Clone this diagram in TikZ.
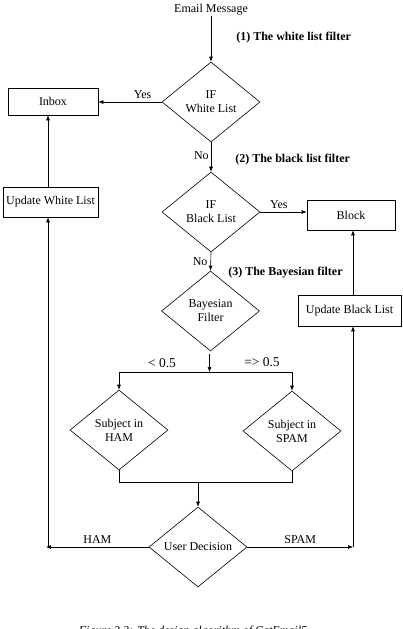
\documentclass[tikz,border=0pt]{standalone}
\usepackage{fontspec}
\setmainfont{Liberation Serif}
\usetikzlibrary{arrows.meta,shapes.geometric,calc}
\tikzset{
  dec/.style={draw, diamond, minimum width=98pt, minimum height=80pt, inner sep=0pt, align=center, font=\fontsize{12}{14}\selectfont},
  box/.style={draw, rectangle, inner sep=0pt, align=center, font=\fontsize{12}{14}\selectfont},
  lbl/.style={font=\fontsize{12}{14}\selectfont, inner sep=0pt},
  ttl/.style={font=\fontsize{12}{14}\selectfont\bfseries, inner sep=0pt, anchor=west},
  arr/.style={-{Latex[length=5pt,width=4pt]}}
}
\begin{document}
\begin{tikzpicture}[x=1pt,y=-1pt,line width=0.6pt]
\useasboundingbox (0,0) rectangle (402,629);
\clip (0,0) rectangle (402,629);
% nodes
\node[lbl] (email) at (211,10) {Email Message};
\node[dec] (white) at (211,102) {IF\\White List};
\node[box, minimum width=90pt, minimum height=27pt] (inbox) at (53,101.5) {Inbox};
\node[dec] (black) at (211,212) {IF\\Black List};
\node[box, minimum width=88pt, minimum height=30pt] (block) at (351,215) {Block};
\node[box, minimum width=95pt, minimum height=30pt] (upw) at (50.5,202) {Update White List};
\node[dec] (bayes) at (210.5,311) {Bayesian\\Filter};
\node[box, minimum width=103pt, minimum height=31pt] (upb) at (349.5,310.5) {Update Black List};
\node[dec] (ham) at (119,430) {Subject in\\HAM};
\node[dec] (spam) at (292,431) {Subject in\\SPAM};
\node[dec] (user) at (198,547) {User Decision};
% titles
\node[ttl] (t1) at (236,38) {(1) The white list filter};
\node[ttl] (t2) at (235,160) {(2) The black list filter};
\node[ttl] (t3) at (228,273) {(3) The Bayesian filter};
% coordinates
\coordinate (bsplit) at (209.5,372);
\coordinate (hamtop) at (119,372);
\coordinate (spamtop) at (292,372);
\coordinate (hambot) at (119,482);
\coordinate (spambot) at (292,482);
\coordinate (join) at (198,482);
\coordinate (leftc) at (48,547);
\coordinate (rightc) at (353,547);
% connectors
\draw[arr] (email.south) -- (white.north);
\draw[arr] (white.west) -- node[lbl, above=3pt, pos=0.3] (yes1) {Yes} (white.west -| inbox.east);
\draw[arr] (white.south) -- node[lbl, left=2pt, pos=0.45] (no1) {No} (black.north);
\draw[arr] (black.east) -- node[lbl, above=3pt, pos=0.4] (yes2) {Yes} (black.east -| block.west);
\draw[arr] (black.south) -- node[lbl, left=3pt, pos=0.5] (no2) {No} (bayes.north);
\draw[arr] (upw.north -| leftc) -- (inbox.south -| leftc);
\draw[arr] (upb.north -| rightc) -- (block.south -| rightc);
\draw[arr] ($(bayes.south)+(-1,3)$) -- (bsplit);
\draw[arr] (bsplit) -- (hamtop) -- (ham.north);
\draw[arr] (bsplit) -- (spamtop) -- (spam.north);
\node[lbl, font=\fontsize{13.5}{15}\selectfont] (lt) at (162,363) {< 0.5};
\node[lbl, font=\fontsize{13.5}{15}\selectfont] (ge) at (262,362) {=> 0.5};
\draw (ham.south) -- (hambot) -- (spambot) -- (spam.south);
\draw[arr] (join) -- (user.north);
\draw[arr] (user.west) -- node[lbl, above=3pt] (hamlbl) {HAM} ($(leftc)+(-2,0)$);
\draw[arr] (leftc) -- (upw.south -| leftc);
\draw[arr] (user.east) -- node[lbl, above=3pt] (spamlbl) {SPAM} (rightc);
\draw[arr] (rightc) -- (upb.south -| rightc);
% caption
\node[font=\fontsize{12}{14}\selectfont\itshape, anchor=base] (cap) at (193,634) {Figure 3.3: The design algorithm of CatEmail5};
\end{tikzpicture}
\end{document}
